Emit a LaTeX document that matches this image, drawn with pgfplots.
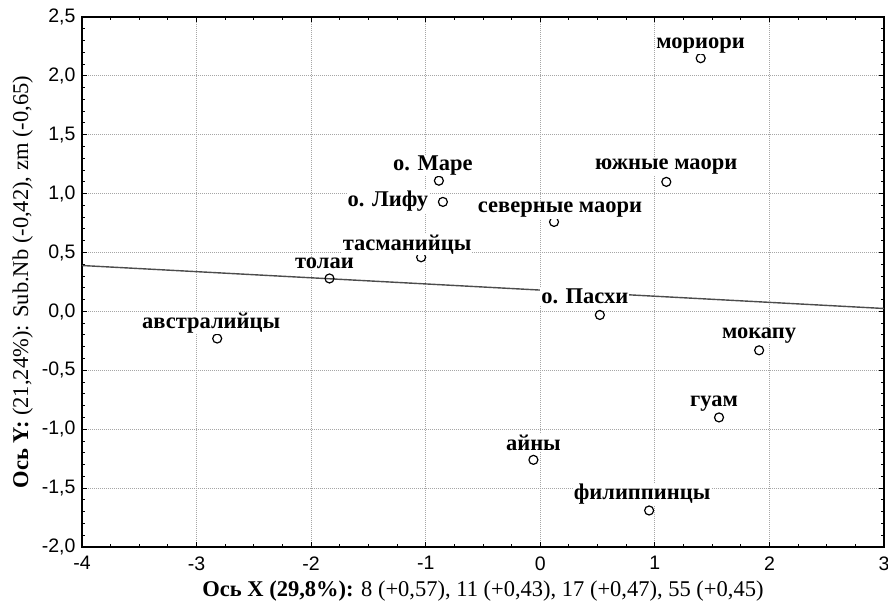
\documentclass[border=0pt]{standalone}
\usepackage{fontspec}
\setmainfont{Liberation Serif}
\newfontfamily\arialfont{Liberation Sans}
\usepackage{pgfplots}
\usepackage{pgfplotstable}
\pgfplotsset{compat=1.18}

% x, y, label offset (bp), label
\pgfplotstableread[col sep=comma]{
x,y,dx,dy,label
-2.82,-0.23,-6,10,австралийцы
-1.84,0.28,-5,10,толаи
-1.04,0.46,-14,7,тасманийцы
-0.885,1.11,-6,10,о. Маре
-0.85,0.93,-55,-5,о. Лифу
0.12,0.76,6,9,северные маори
1.10,1.10,0,12,южные маори
1.40,2.15,0,10,мориори
0.52,-0.03,-15,11,о. Пасхи
1.91,-0.33,0,12,мокапу
1.56,-0.90,-5,11,гуам
-0.06,-1.26,0,9,айны
0.95,-1.69,-7,11,филиппинцы
}\pts

\begin{document}
\begin{tikzpicture}
\begin{axis}[
  name=ax,
  scale only axis,
  width=802bp, height=530bp,
  xmin=-4, xmax=3, ymin=-2, ymax=2.5,
  xtick={-4,-3,-2,-1,0,1,2,3},
  xticklabels={-4,-3,-2,-1,0,1,2,3},
  ytick={-2,-1.5,-1,-0.5,0,0.5,1,1.5,2,2.5},
  yticklabels={{-2,0},{-1,5},{-1,0},{-0,5},{0,0},{0,5},{1,0},{1,5},{2,0},{2,5}},
  ticklabel style={font=\arialfont\fontsize{19.5bp}{21bp}\selectfont},
  xticklabel style={yshift=-6bp},
  yticklabel style={xshift=-3bp},
  minor x tick num=3, minor y tick num=4,
  tick align=inside,
  major tick length=5bp, minor tick length=3bp,
  tick style={black, line width=1bp},
  axis line style={black, line width=1.8bp},
  grid=major,
  major grid style={black!35, dash pattern=on 1bp off 1bp, line width=0.8bp},
  xlabel={\textbf{Ось X (29,8\%):} 8 (+0,57), 11 (+0,43), 17 (+0,47), 55 (+0,45)},
  ylabel={\textbf{Ось Y:} (21,24\%): Sub.Nb (-0,42), zm (-0,65)},
  label style={font=\fontsize{22.5bp}{26bp}\selectfont},
  xlabel shift=4bp,
  ylabel shift=2bp,
  clip=false,
]

% regression line
\addplot[black!70, line width=1.4bp] coordinates {(-4,0.39) (3,0.025)};

\addplot[
  only marks,
  mark=o, mark size=4.5bp,
  mark options={black, line width=1.2bp},
  point meta=explicit symbolic,
  visualization depends on={\thisrow{dx} \as \dx},
  visualization depends on={\thisrow{dy} \as \dy},
  nodes near coords,
  nodes near coords style={
    anchor=base, xshift=\dx bp, yshift=\dy bp,
    fill=white, inner sep=1bp,
    font=\bfseries\fontsize{22.5bp}{24bp}\selectfont, text=black},
] table[x=x, y=y, meta=label] {\pts};

\end{axis}
\pgfresetboundingbox
\path[use as bounding box] ([xshift=-82bp,yshift=-64bp]ax.south west)
  rectangle ([xshift=4bp,yshift=17bp]ax.north east);
\end{tikzpicture}
\end{document}
